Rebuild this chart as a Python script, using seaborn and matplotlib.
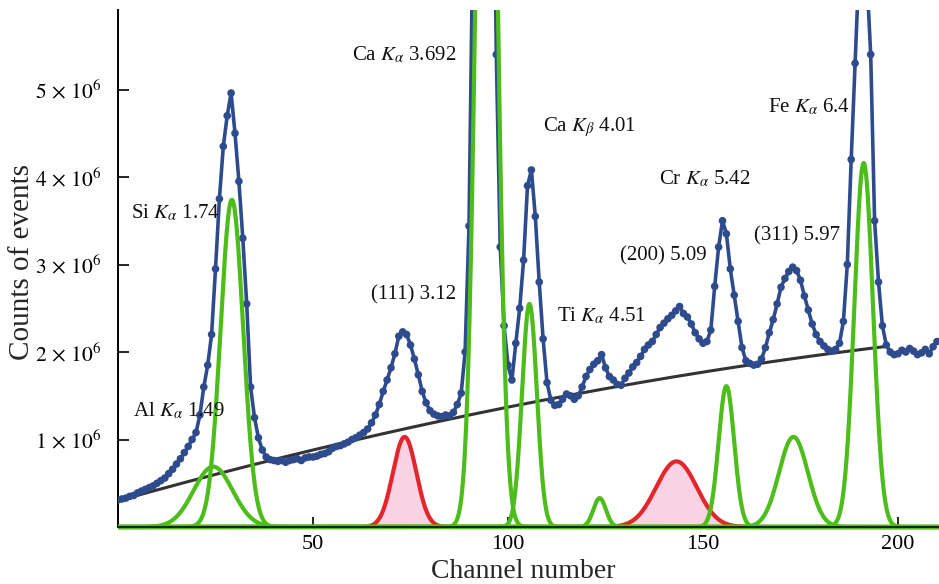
import numpy as np
import pandas as pd
import matplotlib
matplotlib.use("Agg")
import matplotlib.pyplot as plt
import seaborn as sns

# ---------------- data ----------------
channel = np.arange(211)
counts_1e6 = [
    0.31, 0.32, 0.33, 0.35, 0.36, 0.39, 0.41, 0.43, 0.45, 0.47,
    0.50, 0.53, 0.56, 0.61, 0.66, 0.72, 0.78, 0.85, 0.92, 1.00,
    1.08, 1.28, 1.60, 1.85, 2.20, 2.95, 3.75, 4.35, 4.70, 4.96,
    4.50, 3.95, 3.30, 2.55, 1.60, 1.25, 1.02, 0.88, 0.80, 0.77,
    0.76, 0.75, 0.76, 0.74, 0.76, 0.77, 0.78, 0.76, 0.79, 0.80,
    0.80, 0.81, 0.83, 0.84, 0.86, 0.90, 0.92, 0.93, 0.95, 0.97,
    1.00, 1.02, 1.05, 1.08, 1.12, 1.19, 1.28, 1.40, 1.55, 1.68,
    1.82, 1.98, 2.18, 2.23, 2.20, 2.08, 1.92, 1.74, 1.55, 1.42,
    1.33, 1.29, 1.27, 1.26, 1.28, 1.27, 1.31, 1.40, 1.53, 2.00,
    3.44, 6.80, 10.5, 13.0, 13.8, 13.0, 9.00, 5.40, 3.20, 2.30,
    1.85, 1.68, 2.10, 2.50, 3.05, 3.90, 4.08, 3.55, 2.80, 2.15,
    1.65, 1.45, 1.39, 1.40, 1.46, 1.52, 1.50, 1.46, 1.50, 1.60,
    1.72, 1.80, 1.86, 1.90, 1.97, 1.82, 1.72, 1.68, 1.63, 1.62,
    1.70, 1.76, 1.83, 1.88, 1.95, 2.03, 2.08, 2.12, 2.20, 2.28,
    2.33, 2.38, 2.42, 2.47, 2.52, 2.44, 2.40, 2.32, 2.22, 2.15,
    2.10, 2.12, 2.25, 2.75, 3.20, 3.50, 3.35, 2.95, 2.65, 2.35,
    2.05, 1.90, 1.87, 1.85, 1.86, 1.92, 2.05, 2.22, 2.37, 2.55,
    2.74, 2.84, 2.92, 2.97, 2.93, 2.82, 2.64, 2.48, 2.32, 2.20,
    2.12, 2.07, 2.03, 2.01, 2.03, 2.10, 2.35, 3.00, 4.20, 5.30,
    6.40, 6.70, 6.30, 5.40, 3.50, 2.80, 2.30, 2.08, 2.00, 1.97,
    1.98, 2.02, 2.00, 2.04, 2.01, 1.97, 1.99, 2.03, 1.98, 2.06, 2.12,
]

# background polynomial (in 1e6 counts): c0 + c1*x + c2*x^2, fitted range end
background_coef = [0.30, 0.0125, -1.8e-5]
background_end = 197

# Gaussian fit components (green = elements, red = diffraction peaks)
green_centers = [24.4, 29.2, 94.5, 105.5, 123.5, 156.0, 173.2, 191.2]
green_amps = [0.69, 3.74, 12.5, 2.55, 0.33, 1.61, 1.03, 4.16]
green_sigmas = [5.0, 2.9, 2.4, 1.9, 1.6, 2.0, 3.7, 2.4]
red_centers = [73.5, 143.2]
red_amps = [1.03, 0.75]
red_sigmas = [3.0, 5.2]

labels = [r"Si $K_{\alpha}$ 1.74", r"Al $K_{\alpha}$ 1.49", r"Ca $K_{\alpha}$ 3.692",
          r"(111) 3.12", r"Ca $K_{\beta}$ 4.01", r"Ti $K_{\alpha}$ 4.51",
          r"Cr $K_{\alpha}$ 5.42", r"(200) 5.09", r"(311) 5.97", r"Fe $K_{\alpha}$ 6.4"]

ytick_vals = [1, 2, 3, 4, 5]
xtick_vals = [50, 100, 150, 200]

# ---------------- style ----------------
sns.set_style("ticks")
plt.rcParams["font.family"] = ["Liberation Serif", "DejaVu Serif"]
plt.rcParams["mathtext.fontset"] = "stix"

W, H = 939, 584
fig = plt.figure(figsize=(W / 100, H / 100), dpi=100)
px_per_ch = 3.9
px_per_m = 87.5
ax_left, ax_right, ax_top, ax_bot = 118, 939, 10, 530
ax = fig.add_axes([ax_left / W, 1 - ax_bot / H, (ax_right - ax_left) / W, (ax_bot - ax_top) / H])
ymin = -(ax_bot - 527) / px_per_m
ymax = (527 - ax_top) / px_per_m
ax.set_xlim(0, (ax_right - ax_left) / px_per_ch)
ax.set_ylim(ymin, ymax)

blue = "#2d4b8d"
green = "#4dbd1c"
red = "#e3262b"
pink = "#f9d3e3"

xs = np.linspace(0, 211, 2000)

# background
xb = np.linspace(0, background_end, 400)
yb = background_coef[0] + background_coef[1] * xb + background_coef[2] * xb ** 2
sns.lineplot(x=xb, y=yb, ax=ax, color="#333333", lw=2.2, zorder=2)

# data
df = pd.DataFrame({"ch": channel, "c": counts_1e6})
sns.lineplot(data=df, x="ch", y="c", ax=ax, color=blue, lw=2.6, zorder=3)
sns.scatterplot(data=df, x="ch", y="c", ax=ax, color=blue, s=30, edgecolor="none", zorder=3.5)

# red peaks
for c, a, s in zip(red_centers, red_amps, red_sigmas):
    g = a * np.exp(-(xs - c) ** 2 / (2 * s ** 2))
    ax.fill_between(xs, 0, g, color=pink, zorder=1.5, lw=0)
    sns.lineplot(x=xs, y=g, ax=ax, color=red, lw=3, zorder=4)

# green peaks
for c, a, s in zip(green_centers, green_amps, green_sigmas):
    g = a * np.exp(-(xs - c) ** 2 / (2 * s ** 2))
    sns.lineplot(x=xs, y=g, ax=ax, color=green, lw=3, zorder=4.2)

# annotations (left x pixel, center y pixel)
label_px = [(131, 213), (133, 411), (352, 55), (371, 295), (543, 127),
            (557, 316), (659, 179), (620, 256), (754, 236), (768, 107)]
for t, (px, py) in zip(labels, label_px):
    ax.text((px - ax_left) / px_per_ch, (527 - py) / px_per_m, t,
            fontsize=15, ha="left", va="center", color="#111111", zorder=6)

# axes
for sp in ["top", "right"]:
    ax.spines[sp].set_visible(False)
ax.spines["bottom"].set_position(("data", 0))
ax.spines["left"].set_bounds(0, ymax)
ax.spines["bottom"].set_zorder(5)
ax.spines["left"].set_linewidth(1.4)
ax.spines["bottom"].set_linewidth(1.4)
ax.spines["left"].set_color("black")
ax.spines["bottom"].set_color("#0a2a1a")

ax.set_xticks(xtick_vals)
ax.set_xticklabels([str(v) for v in xtick_vals])
ax.set_yticks(ytick_vals)
ax.set_yticklabels([rf"${v}\,\times\,10^{{6}}$" for v in ytick_vals])
ax.tick_params(axis="x", direction="in", length=7, width=1.2, pad=6, labelsize=16, colors="black")
ax.tick_params(axis="y", direction="in", length=8, width=1.2, pad=12, labelsize=15.5, colors="black")

ax.set_xlabel("Channel number", fontsize=20, labelpad=0)
ax.set_ylabel("Counts of events", fontsize=21, labelpad=6)
ax.xaxis.set_label_coords((523 - ax_left) / (ax_right - ax_left), -(571 - ax_bot) / (ax_bot - ax_top) - 0.0)
ax.yaxis.set_label_coords(-(ax_left - 22) / (ax_right - ax_left), (ax_bot - 262) / (ax_bot - ax_top))
ax.xaxis.label.set_va("center")
ax.yaxis.label.set_va("center")

fig.savefig("out.png", dpi=100)
